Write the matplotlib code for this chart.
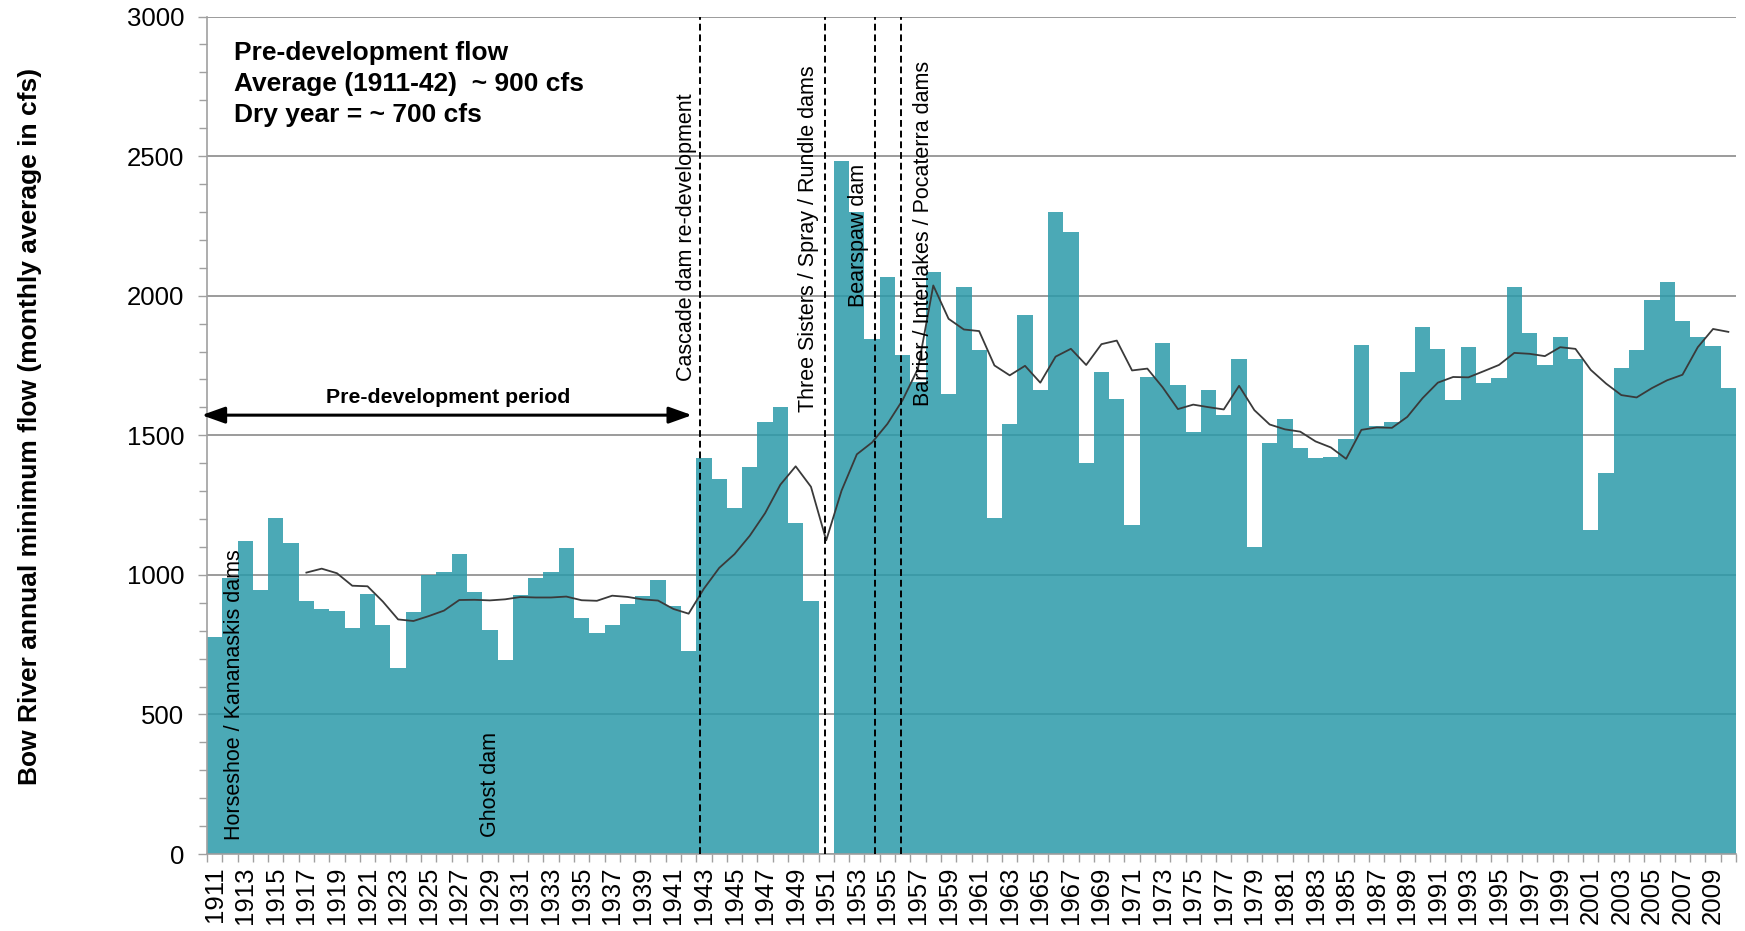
import numpy as np
import pandas as pd
import matplotlib
matplotlib.use("Agg")
import matplotlib.pyplot as plt
from matplotlib.patches import ArrowStyle

plt.rcParams['font.family'] = ['Liberation Sans', 'DejaVu Sans']

# ---------------- data ----------------
years = list(range(1911, 2011))
flow = [777, 987, 1121, 946, 1202, 1115, 908, 876, 872, 808,
        932, 819, 667, 868, 999, 1010, 1074, 937, 804, 694,
        926, 987, 1010, 1097, 845, 790, 822, 895, 924, 982,
        887, 726, 1418, 1342, 1240, 1386, 1547, 1602, 1186, 905,
        np.nan, 2484, 2298, 1846, 2066, 1787, 1690, 2085, 1648, 2030,
        1806, 1204, 1539, 1929, 1662, 2301, 2227, 1400, 1726, 1629,
        1180, 1708, 1832, 1681, 1512, 1662, 1572, 1772, 1098, 1473,
        1559, 1454, 1418, 1421, 1486, 1824, 1534, 1549, 1728, 1888,
        1810, 1628, 1815, 1688, 1706, 2030, 1865, 1752, 1852, 1773,
        1161, 1363, 1741, 1806, 1986, 2049, 1911, 1852, 1820, 1668]
tick_labels = [str(y) for y in range(1911, 2010, 2)]
ma_period = 7  # moving-average trendline period of the original chart

dam_labels = ["Horseshoe / Kananaskis dams", "Ghost dam", "Cascade dam re-development",
              "Three Sisters / Spray / Rundle dams", "Bearspaw dam",
              "Barrier / Interlakes / Pocaterra dams"]
info_lines = ["Pre-development flow", "Average (1911-42)  ~ 900 cfs", "Dry year = ~ 700 cfs"]

# ---------------- figure ----------------
fig = plt.figure(figsize=(17.45, 9.31), dpi=100)
ax = fig.add_axes([207 / 1745, 1 - 854 / 931, (1736 - 207) / 1745, (854 - 16.5) / 931])

x = np.arange(len(years))
flow_s = pd.Series(flow, dtype=float)
# slightly transparent bars so the gridlines show through as darker teal
ax.bar(x, flow_s.fillna(0), width=1.0, color=(43 / 255, 154 / 255, 169 / 255),
       alpha=0.85, linewidth=0, zorder=1)

# 7-year moving average trendline (blank year counted as zero, as in the source chart)
ma = flow_s.fillna(0).rolling(ma_period).mean()
ax.plot(x, ma, color='#3a3a3a', lw=1.3, zorder=2)

ax.set_xlim(-0.5, len(years) - 0.5)
ax.set_ylim(0, 3000)

ax.set_axisbelow(True)
ax.yaxis.grid(True, color='#8a8a8a', lw=1.2)
ax.xaxis.grid(False)

# y ticks
ax.set_yticks(np.arange(0, 3001, 500))
ax.set_yticks(np.arange(0, 3001, 100), minor=True)
ax.tick_params(axis='y', which='major', length=6.5, width=1, color='#a0a0a0',
               labelsize=18.5, pad=10)
ax.tick_params(axis='y', which='minor', length=5.5, width=1, color='#a0a0a0')

# x ticks: labels every 2 years at centers, tick marks at category boundaries
label_pos = [years.index(int(t)) for t in tick_labels]
ax.set_xticks(label_pos)
ax.set_xticklabels(tick_labels, rotation=90)
ax.set_xticks(np.arange(-0.5, len(years), 1.0), minor=True)
ax.tick_params(axis='x', which='major', length=0, labelsize=18.5, pad=9)
ax.tick_params(axis='x', which='minor', length=6, width=1, color='#a0a0a0')

for s in ['top', 'right']:
    ax.spines[s].set_visible(False)
for s in ['left', 'bottom']:
    ax.spines[s].set_color('#a0a0a0')
    ax.spines[s].set_linewidth(1.2)
    ax.spines[s].set_zorder(3)

fig.text(30 / 1745, 1 - 426 / 931, "Bow River annual minimum flow (monthly average in cfs)",
         rotation=90, ha='center', va='center', fontsize=19, fontweight='bold')

# dam development markers (dashed verticals)
for xv in [31.74, 39.92, 43.19, 44.89]:
    ax.plot([xv, xv], [0, 3000], color='black', lw=1.4, ls=(0, (3.5, 2)), zorder=4)

# rotated annotations
rot_text = [(1.33, 50), (18.01, 61), (30.83, 1694), (38.87, 1583), (42.08, 1958), (46.39, 1604)]
for (tx, ty), lab in zip(rot_text, dam_labels):
    ax.text(tx, ty, lab, rotation=90, ha='center', va='bottom', fontsize=15.5, zorder=5)

# info text block
for yv, line in zip([2845, 2733, 2622], info_lines):
    ax.text(1.27, yv, line, ha='left', va='baseline', fontsize=19, fontweight='bold', zorder=5)

# pre-development period arrow
ax.annotate('', xy=(-0.85, 1572), xytext=(31.22, 1572),
            arrowprops=dict(arrowstyle=ArrowStyle('<|-|>', head_length=0.7, head_width=0.25),
                            color='black', lw=2.2, mutation_scale=20, shrinkA=0, shrinkB=0),
            annotation_clip=False, zorder=5)
ax.text(15.29, 1614, "Pre-development period", ha='center', va='baseline',
        fontsize=15.3, fontweight='bold', zorder=5)

fig.savefig("out.png", dpi=100)
